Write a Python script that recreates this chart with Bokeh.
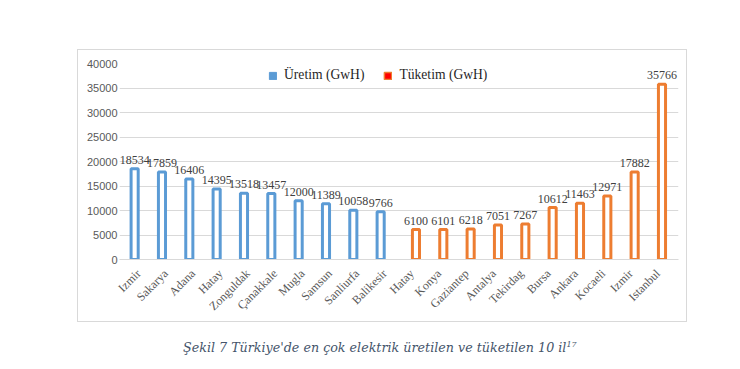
import math
from bokeh.plotting import figure
from bokeh.layouts import column
from bokeh.models import (ColumnDataSource, Range1d, Legend, LegendItem, FixedTicker,
                          LabelSet, Div)
from bokeh.transform import dodge
from bokeh.embed import file_html
from bokeh.resources import INLINE

# ---- data ----
uretim_iller = ["Izmir", "Sakarya", "Adana", "Hatay", "Zonguldak", "Çanakkale",
                "Mugla", "Samsun", "Sanliurfa", "Balikesir"]
uretim_gwh = [18534, 17859, 16406, 14395, 13518, 13457, 12000, 11389, 10058, 9766]
tuketim_iller = ["Hatay", "Konya", "Gaziantep", "Antalya", "Tekirdag", "Bursa",
                 "Ankara", "Kocaeli", "Izmir", "Istanbul"]
tuketim_gwh = [6100, 6101, 6218, 7051, 7267, 10612, 11463, 12971, 17882, 35766]
y_ticks = [0, 5000, 10000, 15000, 20000, 25000, 30000, 35000, 40000]
caption = "Şekil 7 Türkiye'de en çok elektrik üretilen ve tüketilen 10 il"
caption_sup = "17"

all_iller = uretim_iller + tuketim_iller
n_u = len(uretim_iller)
pos = [i + 0.5 for i in range(len(all_iller))]

src_u = ColumnDataSource(dict(x=pos[:n_u], v=uretim_gwh, lbl=[str(v) for v in uretim_gwh]))
src_t = ColumnDataSource(dict(x=pos[n_u:], v=tuketim_gwh, lbl=[str(v) for v in tuketim_gwh]))

BLUE = "#5B9BD5"
ORANGE = "#ED7D31"
GRAY = "#595959"

p = figure(width=610, height=273, x_range=Range1d(-0.2, len(all_iller) + 0.25),
           y_range=Range1d(0, 40000),
           output_backend="svg", toolbar_location=None,
           min_border_left=41, min_border_right=10, min_border_top=13, min_border_bottom=64)
p.margin = (49, 0, 0, 77)
p.styles = {"border": "1px solid #D9D9D9"}
p.outline_line_color = None
p.background_fill_color = "white"
p.border_fill_color = "white"
p.xgrid.visible = False
p.ygrid.grid_line_color = "#D9D9D9"
p.ygrid.grid_line_width = 1

# y axis
p.yaxis.ticker = FixedTicker(ticks=y_ticks)
p.yaxis.axis_line_color = None
p.yaxis.major_tick_line_color = None
p.yaxis.minor_tick_line_color = None
p.yaxis.major_tick_out = 0
p.yaxis.major_label_standoff = 2
p.yaxis.major_label_text_font = "Liberation Sans"
p.yaxis.major_label_text_font_size = "11px"
p.yaxis.major_label_text_color = GRAY

# x axis
p.xaxis.ticker = FixedTicker(ticks=pos)
p.xaxis.major_label_overrides = {x: name for x, name in zip(pos, all_iller)}
p.xaxis.axis_line_color = "#D9D9D9"
p.xaxis.major_tick_line_color = None
p.xaxis.minor_tick_line_color = None
p.xaxis.major_tick_out = 0
p.xaxis.major_label_standoff = 12
p.xaxis.major_label_orientation = math.pi / 4
p.xaxis.major_label_text_font = "Liberation Serif"
p.xaxis.major_label_text_font_size = "12px"
p.xaxis.major_label_text_color = GRAY

OFF = 0.146
p.vbar(x=dodge("x", -OFF), top="v", bottom=0, width=0.26, fill_color="white",
       line_color=BLUE, line_width=3, source=src_u)
p.vbar(x=dodge("x", OFF), top="v", bottom=0, width=0.26, fill_color="white",
       line_color=ORANGE, line_width=3, source=src_t)

for src, off in ((src_u, -OFF), (src_t, OFF)):
    p.add_layout(LabelSet(x=dodge("x", off), y="v", text="lbl", source=src, y_offset=5,
                          text_align="center", text_baseline="bottom",
                          text_font="Liberation Serif", text_font_size="12px",
                          text_color="#404040"))

# legend (dummy renderers with no visible data)
nan = float("nan")
r1 = p.vbar(x=[nan], top=[nan], width=0.5, fill_color=BLUE, line_color=BLUE)
r2 = p.vbar(x=[nan], top=[nan], width=0.5, fill_color="#FF0000", line_color=ORANGE, line_width=1.5)
legend = Legend(items=[LegendItem(label="Üretim (GwH)", renderers=[r1]),
                       LegendItem(label="Tüketim (GwH)", renderers=[r2])],
                orientation="horizontal", location=(149, 176),
                glyph_width=9, glyph_height=9, label_standoff=7, spacing=19,
                padding=0, margin=0, border_line_color=None, background_fill_alpha=0,
                label_text_font="Liberation Serif", label_text_font_size="13.6px",
                label_text_color="#1F1F1F")
p.add_layout(legend)

cap = Div(text=f"{caption}<sup style='font-size:8px'>{caption_sup}</sup>",
          margin=(15, 0, 0, 183),
          styles={"font-family": "DejaVu Serif", "font-style": "italic",
                  "font-size": "12.7px", "line-height": "16px",
                  "color": "#44546A", "white-space": "nowrap"})

layout = column(p, cap, spacing=0)
open("out.html", "w").write(file_html(layout, INLINE))
